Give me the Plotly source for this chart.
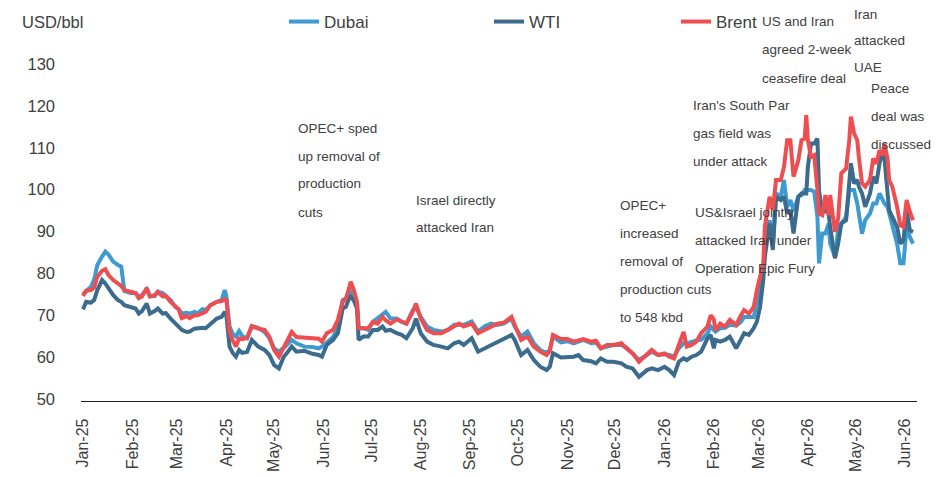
import plotly.graph_objects as go

# the page body adds an 8px margin, so figure pixels = screen pixels - OFF
OFF = 8
W, H = 947, 477
L, R, T, B = 81 - OFF, 30 + OFF, 43 - OFF, 76 + OFF
PW, PH = W - L - R, H - T - B

dates = [
    # 2025
    "2025-01-01", "2025-01-03", "2025-01-06", "2025-01-08", "2025-01-10", "2025-01-13", "2025-01-15",
    "2025-01-17", "2025-01-20", "2025-01-23", "2025-01-25", "2025-01-27", "2025-01-31",
    "2025-02-03", "2025-02-05", "2025-02-07", "2025-02-10", "2025-02-12", "2025-02-15", "2025-02-17",
    "2025-02-20", "2025-02-22", "2025-02-25", "2025-02-28",
    "2025-03-02", "2025-03-04", "2025-03-07", "2025-03-09", "2025-03-12", "2025-03-14", "2025-03-17",
    "2025-03-19", "2025-03-22", "2025-03-26", "2025-03-29", "2025-03-31",
    "2025-04-01", "2025-04-03", "2025-04-05", "2025-04-07", "2025-04-09", "2025-04-11", "2025-04-14",
    "2025-04-17", "2025-04-21", "2025-04-25", "2025-04-28",
    "2025-05-01", "2025-05-04", "2025-05-07", "2025-05-09", "2025-05-12", "2025-05-15", "2025-05-20",
    "2025-05-25", "2025-05-29", "2025-05-31",
    "2025-06-03", "2025-06-07", "2025-06-10", "2025-06-13", "2025-06-15", "2025-06-17", "2025-06-18",
    "2025-06-20", "2025-06-22", "2025-06-23", "2025-06-26", "2025-06-29",
    "2025-07-02", "2025-07-05", "2025-07-08", "2025-07-10", "2025-07-13", "2025-07-17", "2025-07-20",
    "2025-07-23", "2025-07-27", "2025-07-29",
    "2025-08-01", "2025-08-05", "2025-08-09", "2025-08-14", "2025-08-18", "2025-08-22", "2025-08-25",
    "2025-08-28",
    "2025-09-02", "2025-09-06", "2025-09-10", "2025-09-14", "2025-09-18", "2025-09-22", "2025-09-27",
    "2025-09-29",
    "2025-10-03", "2025-10-07", "2025-10-11", "2025-10-15", "2025-10-19", "2025-10-21", "2025-10-23",
    "2025-10-28",
    "2025-11-01", "2025-11-05", "2025-11-08", "2025-11-11", "2025-11-16", "2025-11-19", "2025-11-22",
    "2025-11-26", "2025-11-30",
    "2025-12-05", "2025-12-08", "2025-12-12", "2025-12-16", "2025-12-21", "2025-12-24", "2025-12-28",
    # 2026
    "2026-01-01", "2026-01-04", "2026-01-07", "2026-01-10", "2026-01-13", "2026-01-15", "2026-01-18",
    "2026-01-21", "2026-01-24", "2026-01-28", "2026-01-30",
    "2026-02-01", "2026-02-02", "2026-02-05", "2026-02-08", "2026-02-11", "2026-02-15", "2026-02-18",
    "2026-02-20", "2026-02-23", "2026-02-26", "2026-02-28",
    "2026-03-02", "2026-03-04", "2026-03-05", "2026-03-08", "2026-03-10", "2026-03-12", "2026-03-15",
    "2026-03-17", "2026-03-19", "2026-03-21", "2026-03-23", "2026-03-26", "2026-03-28", "2026-03-30",
    "2026-03-31",
    "2026-04-01", "2026-04-03", "2026-04-05", "2026-04-07", "2026-04-08", "2026-04-10", "2026-04-12",
    "2026-04-14", "2026-04-15", "2026-04-18", "2026-04-20", "2026-04-22", "2026-04-25", "2026-04-27",
    "2026-04-28", "2026-04-30",
    "2026-05-02", "2026-05-03", "2026-05-05", "2026-05-07", "2026-05-10", "2026-05-12", "2026-05-14",
    "2026-05-16", "2026-05-18", "2026-05-19", "2026-05-21", "2026-05-22", "2026-05-24", "2026-05-27",
    "2026-05-29", "2026-05-31",
    "2026-06-02", "2026-06-04", "2026-06-06",
]

dubai = [
    75.0, 75.8, 76.8, 78.5, 82.0, 84.0, 85.2, 84.5, 82.8, 82.0, 81.6, 75.8, 75.3,
    75.3, 74.4, 74.8, 76.2, 74.5, 74.6, 75.6, 75.3, 74.6, 73.6, 72.0,
    71.5, 70.4, 70.6, 70.4, 70.8, 70.4, 71.5, 71.2, 72.4, 73.2, 73.6, 76.0,
    74.5, 67.3, 65.5, 64.9, 66.2, 65.0, 64.5, 67.4, 67.0, 66.0, 64.5,
    62.1, 61.3, 62.2, 63.0, 64.1, 63.3, 62.5, 62.4, 62.1, 62.5,
    63.5, 64.8, 67.3, 73.6, 74.0, 74.8, 75.6, 74.8, 73.0, 66.9, 66.9, 66.5,
    68.4, 69.2, 70.0, 70.8, 69.2, 69.2, 68.4, 68.0, 71.2, 72.0,
    69.6, 67.3, 66.5, 66.1, 66.5, 67.7, 67.7, 67.7,
    68.5, 66.1, 67.3, 68.0, 67.7, 68.0, 69.2, 67.3,
    64.9, 66.1, 63.3, 61.7, 61.0, 61.7, 64.9, 63.5,
    63.8, 63.3, 63.7, 64.1, 63.3, 63.5, 62.1, 62.5, 62.9,
    62.9, 62.3, 60.9, 59.3, 60.5, 61.3, 60.5,
    60.7, 60.5, 60.1, 62.1, 63.3, 63.3, 63.7, 64.0, 64.1, 65.7, 67.3,
    66.5, 66.1, 66.9, 67.0, 67.7, 67.5, 68.4, 69.6, 69.6, 69.6, 72.8,
    76.8, 80.0, 85.6, 92.7, 86.3, 99.1, 98.3, 102.3, 95.9, 97.5, 95.1, 98.3, 98.7, 99.9, 99.9,
    99.9, 99.9, 99.5, 93.5, 82.4, 89.5, 89.5, 91.9, 87.1, 84.0, 90.3, 91.9, 93.5, 99.9, 99.9, 99.9,
    96.7, 94.3, 89.5, 92.7, 94.3, 96.7, 96.7, 99.1, 97.5, 96.7, 95.9, 94.3, 91.1, 87.1, 82.4, 82.4,
    91.1, 88.7, 87.1,
]

wti = [
    71.4, 73.2, 73.0, 73.6, 76.0, 78.4, 77.6, 76.4, 74.8, 73.6, 73.2, 72.4, 72.0,
    71.6, 70.4, 71.0, 72.8, 70.4, 71.0, 71.6, 70.4, 70.5, 69.2, 68.0,
    67.5, 66.5, 66.0, 66.1, 66.8, 66.9, 67.0, 66.9, 68.0, 69.2, 69.6, 70.8,
    70.0, 62.5, 61.0, 60.1, 61.7, 61.0, 61.2, 64.1, 62.5, 61.7, 60.5,
    58.1, 57.3, 60.1, 61.0, 62.5, 61.3, 61.5, 60.8, 60.5, 60.1,
    62.9, 64.1, 65.7, 71.6, 72.0, 74.0, 74.4, 73.5, 71.6, 64.1, 64.9, 64.9,
    66.5, 66.5, 67.3, 66.3, 66.5, 65.7, 65.3, 64.5, 66.9, 69.2,
    65.7, 63.7, 62.9, 62.5, 62.1, 63.3, 63.7, 62.9,
    64.5, 61.3, 62.1, 62.9, 63.7, 64.5, 65.3, 64.1,
    60.5, 61.7, 59.3, 57.7, 56.9, 57.7, 60.9, 59.9,
    60.1, 60.1, 60.5, 59.3, 59.0, 58.5, 59.7, 58.9, 58.9,
    58.5, 57.7, 57.3, 55.3, 56.9, 57.3, 56.9,
    57.7, 56.9, 55.7, 58.9, 59.7, 59.3, 60.1, 60.5, 61.3, 64.5, 65.3,
    62.1, 64.1, 63.7, 64.1, 64.9, 62.1, 64.5, 65.7, 65.3, 66.9, 68.5,
    72.0, 78.4, 84.0, 91.9, 85.6, 98.3, 97.5, 98.3, 94.3, 95.1, 89.5, 98.3, 99.1, 99.1, 99.1,
    105.4, 111.0, 111.0, 112.2, 99.9, 94.3, 95.1, 94.3, 91.1, 83.6, 87.1, 91.9, 92.7, 101.5, 106.3, 101.5,
    102.3, 100.7, 99.1, 95.9, 99.1, 103.1, 101.5, 106.3, 109.4, 107.8, 100.7, 95.1, 93.5, 91.1, 87.1, 87.9,
    95.1, 90.3, 89.9,
]

brent = [
    74.6, 75.9, 76.0, 76.6, 79.2, 80.6, 81.0, 79.6, 78.4, 77.7, 77.0, 76.0, 75.5,
    75.3, 74.1, 74.5, 76.5, 74.5, 74.8, 75.6, 74.5, 74.6, 73.2, 72.0,
    71.4, 69.3, 69.8, 69.3, 70.0, 70.0, 70.6, 70.8, 72.4, 73.2, 73.4, 73.8,
    73.6, 66.0, 64.0, 62.5, 64.5, 64.3, 64.6, 67.4, 66.8, 66.5, 64.8,
    61.7, 60.1, 62.5, 64.0, 66.0, 64.8, 64.6, 64.4, 64.4, 63.7,
    65.7, 66.5, 68.9, 73.2, 74.0, 76.4, 78.0, 76.0, 73.2, 66.9, 66.9, 66.9,
    68.4, 68.0, 69.6, 68.8, 68.0, 69.0, 68.5, 68.0, 70.8, 72.8,
    69.2, 66.5, 65.7, 65.7, 66.5, 67.3, 68.0, 67.3,
    68.0, 65.7, 66.5, 67.3, 68.0, 68.2, 69.6, 67.7,
    64.1, 64.9, 62.5, 61.3, 60.5, 61.5, 65.3, 64.3,
    64.3, 63.7, 64.1, 64.3, 63.7, 63.9, 62.1, 62.9, 62.9,
    63.3, 62.1, 60.9, 58.9, 60.5, 61.7, 60.5,
    60.9, 60.1, 59.7, 62.9, 66.0, 62.5, 62.9, 63.7, 65.7, 67.3, 70.0,
    69.0, 66.3, 68.0, 67.3, 68.9, 67.7, 70.0, 71.2, 70.4, 72.0, 76.0,
    79.2, 82.4, 91.1, 98.3, 95.1, 102.3, 102.3, 105.4, 111.8, 111.8, 103.1, 107.0, 111.8, 112.2, 117.8,
    111.8, 107.8, 108.2, 99.9, 94.3, 93.9, 98.7, 93.9, 98.7, 89.9, 93.1, 103.9, 105.0, 111.8, 117.4, 113.4,
    111.8, 107.8, 101.5, 100.7, 102.3, 107.4, 106.2, 109.4, 108.2, 111.0, 107.4, 102.3, 100.7, 95.9, 91.5, 91.1,
    97.5, 94.7, 92.7,
]

names = ["Dubai", "WTI", "Brent"]
colors = ["#3d9bd2", "#3b6b8d", "#ee4e50"]
legend_left = [284, 489, 676]  # screen pixels

# event notes: left pixel, first line pixel (screen), line step, lines
notes = [
    (298, 128, 28, ["OPEC+ sped", "up removal of", "production", "cuts"]),
    (416, 200, 28, ["Israel directly", "attacked Iran"]),
    (620, 205, 28, ["OPEC+", "increased", "removal of", "production cuts", "to 548 kbd"]),
    (695, 212, 28, ["US&Israel jointly", "attacked Iran under", "Operation Epic Fury"]),
    (693, 105, 28, ["Iran's South Par", "gas field was", "under attack"]),
    (762, 22, 28, ["US and Iran", "agreed 2-week", "ceasefire deal"]),
    (854, 15, 26, ["Iran", "attacked", "UAE"]),
    (871, 88, 28, ["Peace", "deal was", "discussed"]),
]

FONT = "Arial, Liberation Sans, sans-serif"
TXT = "#404040"


def px_x(px):
    return (px - OFF - L) / PW


def px_y(py):
    return (H - B - (py - OFF)) / PH


fig = go.Figure()
for i, (name, vals) in enumerate(zip(names, [dubai, wti, brent])):
    leg = "legend" if i == 0 else "legend" + str(i + 1)
    fig.add_trace(go.Scatter(x=dates, y=vals, name=name, mode="lines",
                             line=dict(color=colors[i], width=4), legend=leg))

annotations = []
for x0, y0, step, lines in notes:
    for k, line in enumerate(lines):
        annotations.append(dict(x=px_x(x0 - 2), y=px_y(y0 + k * step), xref="paper", yref="paper",
                                text=line, showarrow=False, xanchor="left", yanchor="middle",
                                font=dict(family=FONT, size=13.5, color=TXT)))
annotations.append(dict(x=px_x(20), y=px_y(22), xref="paper", yref="paper", text="USD/bbl",
                        showarrow=False, xanchor="left", yanchor="middle",
                        font=dict(family=FONT, size=16.5, color=TXT)))

layout = dict(
    width=W, height=H,
    margin=dict(l=L, r=R, t=T, b=B, autoexpand=False),
    paper_bgcolor="white", plot_bgcolor="white",
    font=dict(family=FONT, size=16, color=TXT),
    xaxis=dict(type="date", range=["2024-12-30T18:00", "2026-06-08T12:00"], automargin=False,
               tickformat="%b-%y", dtick="M1", tick0="2025-01-01", tickangle=-90,
               showgrid=False, zeroline=False, showline=True, linecolor="#222", linewidth=1.3,
               ticks="", ticklabelstandoff=10, tickfont=dict(size=16, color=TXT)),
    yaxis=dict(range=[49.52, 135.01], tickvals=[50, 60, 70, 80, 90, 100, 110, 120, 130], automargin=False,
               showgrid=False, zeroline=False, showline=False, ticks="",
               ticklabelstandoff=25, tickfont=dict(size=16.5, color=TXT)),
    annotations=annotations,
    showlegend=True,
)
for i in range(3):
    key = "legend" if i == 0 else "legend" + str(i + 1)
    layout[key] = dict(x=(legend_left[i] - OFF) / W, y=1 - (22 - OFF) / H, xref="container", yref="container",
                       xanchor="left", yanchor="middle", orientation="h",
                       bgcolor="rgba(0,0,0,0)", font=dict(family=FONT, size=17, color=TXT))
fig.update_layout(**layout)

fig.write_html("out.html")
